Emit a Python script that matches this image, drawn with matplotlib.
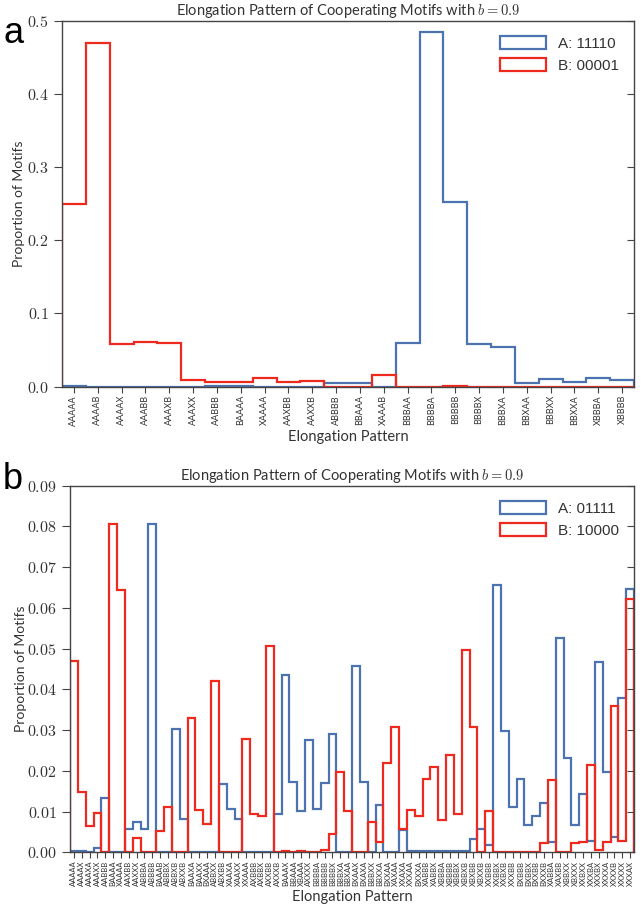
import matplotlib
matplotlib.use("Agg")
import numpy as np
import matplotlib.pyplot as plt
from matplotlib.patches import Patch
from matplotlib.ticker import FuncFormatter

plt.rcParams["mathtext.fontset"] = "cm"
plt.rcParams["font.family"] = ["Lato", "DejaVu Sans"]

BLUE = "#4c72b0"
RED = "#ee2a1e"

# ---- panel a ----
labels_a = ["AAAAA", "AAAAB", "AAAAX", "AAABB", "AAAXB", "AAAXX", "AABBB", "BAAAA",
            "XAAAA", "AAXBB", "AAXXB", "ABBBB", "BBAAA", "XAAAB", "BBBAA", "BBBBA",
            "BBBBB", "BBBBX", "BBBXA", "BBXAA", "BBBXX", "BBXXA", "XBBBA", "XBBBB"]
a_motif_a = [0.0005, 0.0, 0.0, 0.0, 0.0, 0.0, 0.001, 0.001, 0.0, 0.0, 0.0, 0.0055,
             0.0055, 0.0, 0.060, 0.485, 0.252, 0.058, 0.054, 0.0055, 0.010, 0.006,
             0.0115, 0.009]
a_motif_b = [0.250, 0.469, 0.058, 0.061, 0.059, 0.009, 0.007, 0.007, 0.0115, 0.006,
             0.0075, 0.0, 0.0, 0.016, 0.0, 0.0, 0.0005, 0.0, 0.0, 0.0, 0.0, 0.0,
             0.0, 0.0]

# ---- panel b ----
labels_b = ["AAAAA", "AAAAX", "AAAXA", "AAAXX", "AABBB", "BAAAA", "XAAAA", "AAXBB",
            "AAXXX", "ABBBA", "ABBBB", "BAAAB", "ABBBX", "ABBXB", "ABXXB", "BAAXA",
            "BAAXX", "BXAAA", "ABBXX", "ABXBB", "XAAXA", "XAAXX", "XXAAA", "AXBBB",
            "AXBBX", "AXXBB", "AXXXB", "BAAAX", "BBAAA", "XBAAA", "AXXXX", "BBBBA",
            "BBBBB", "BBBBX", "BBBXA", "BBXAA", "BXAAX", "BXAXA", "BBBXX", "BBXXA",
            "BXXAA", "XAXAA", "XXAXA", "XXXAA", "BXXXA", "XABBB", "XABBX", "XBBBA",
            "XBBBB", "XBBBX", "XBBXB", "XBXBB", "XBXXB", "XXBBB", "XXBBX", "XXBXB",
            "XXXBB", "BXBBB", "BXBBX", "BXXBB", "BXXXB", "XABBA", "XAXBB", "XBBXX",
            "XBXXX", "XXBXX", "XXXBA", "XXXBX", "XXXXA", "XXXXB", "XXXXX", "XXXAX"]
b_motif_a = [0.0003, 0.0004, 0.0, 0.001, 0.0133, 0.0, 0.0, 0.0056, 0.0074, 0.0057,
             0.0807, 0.0, 0.0, 0.0303, 0.0081, 0.0, 0.0, 0.0, 0.0, 0.0167,
             0.0107, 0.0081, 0.0, 0.0, 0.0, 0.0, 0.0093, 0.0435, 0.0173, 0.0102,
             0.0276, 0.0106, 0.0169, 0.029, 0.0, 0.0, 0.0457, 0.0173, 0.0, 0.0116,
             0.0, 0.0, 0.0055, 0.0002, 0.0002, 0.0002, 0.0003, 0.0003, 0.0003, 0.0004,
             0.0004, 0.0033, 0.0057, 0.0019, 0.0657, 0.0297, 0.0112, 0.0179, 0.0066, 0.009,
             0.0121, 0.0025, 0.0526, 0.0232, 0.0068, 0.0142, 0.0027, 0.0466, 0.0196, 0.0037,
             0.038, 0.0647]
b_motif_b = [0.047, 0.0149, 0.0065, 0.0097, 0.0, 0.0805, 0.0644, 0.0, 0.0034, 0.0,
             0.0, 0.0052, 0.0112, 0.0, 0.0, 0.033, 0.0105, 0.0069, 0.0421, 0.0,
             0.0, 0.0, 0.0277, 0.0094, 0.0089, 0.0506, 0.0, 0.0003, 0.0, 0.0004,
             0.0, 0.0, 0.0005, 0.0044, 0.0196, 0.0101, 0.0, 0.0, 0.0074, 0.0026,
             0.022, 0.0307, 0.0057, 0.0104, 0.0088, 0.018, 0.021, 0.008, 0.0238, 0.0095,
             0.0497, 0.0307, 0.0, 0.0101, 0.0, 0.0, 0.0, 0.0, 0.0, 0.0,
             0.0022, 0.0178, 0.0, 0.0, 0.0022, 0.0024, 0.0215, 0.0005, 0.0024, 0.036,
             0.0028, 0.0622]


def draw_panel(ax, labels, vals_a, vals_b, name_a, name_b, yticks, fmt, xfs):
    n = len(labels)
    edges = np.arange(n + 1)
    ax.stairs(vals_a, edges, color=BLUE, lw=1.6)
    ax.stairs(vals_b, edges, color=RED, lw=1.6)
    ax.set_xlim(0, n)
    ax.set_ylim(yticks[0], yticks[-1])
    ax.set_xticks(np.arange(n) + 0.5)
    ax.set_xticklabels(labels, rotation=90, fontsize=xfs, color="#333333")
    ax.set_yticks(yticks)
    ax.yaxis.set_major_formatter(FuncFormatter(lambda v, p: "$%s$" % (fmt % v)))
    ax.tick_params(axis="y", labelsize=11.5, left=True, right=True, direction="out",
                   length=6, color="#444444", labelcolor="#333333")
    ax.tick_params(axis="x", top=False, direction="out", length=4, color="#444444", pad=2)
    # right-hand ticks point inward
    for t in ax.yaxis.get_ticklines()[1::2]:
        t.set_marker(0)
        t.set_markersize(5)
    for s in ax.spines.values():
        s.set_color("#444444")
        s.set_linewidth(1.0)
    ax.set_title("Elongation Pattern of Cooperating Motifs with $b = 0.9$", fontsize=10.5,
                 color="#333333", pad=4)
    ax.set_xlabel("Elongation Pattern", fontsize=10.5, color="#333333", labelpad=3)
    ax.set_ylabel("Proportion of Motifs", fontsize=10, color="#333333")
    handles = [Patch(facecolor="none", edgecolor=BLUE, lw=1.6, label=name_a),
               Patch(facecolor="none", edgecolor=RED, lw=1.6, label=name_b)]
    leg = ax.legend(handles=handles, loc="upper right", frameon=False, handlelength=3.0,
                    handleheight=0.9, borderaxespad=0.6,
                    prop={"family": "Liberation Sans", "size": 11})
    for t in leg.get_texts():
        t.set_color("#333333")


fig = plt.figure(figsize=(6.44, 9.18), dpi=100)

ax1 = fig.add_axes([0.0963, 0.5788, 0.8882, 0.3987])
draw_panel(ax1, labels_a, a_motif_a, a_motif_b, "A: 11110", "B: 00001",
           [0.0, 0.1, 0.2, 0.3, 0.4, 0.5], "%.1f", 6.5)
ax1.yaxis.set_label_coords(-0.064, 0.5)

ax2 = fig.add_axes([0.1087, 0.0716, 0.8758, 0.3993])
draw_panel(ax2, labels_b, b_motif_a, b_motif_b, "A: 01111", "B: 10000",
           [0.0, 0.01, 0.02, 0.03, 0.04, 0.05, 0.06, 0.07, 0.08, 0.09], "%.2f", 5.5)
ax2.yaxis.set_label_coords(-0.077, 0.5)

fig.text(0.005, 0.953, "a", fontsize=26, family="Liberation Sans")
fig.text(0.005, 0.467, "b", fontsize=26, family="Liberation Sans")

fig.savefig("out.png", dpi=100)
